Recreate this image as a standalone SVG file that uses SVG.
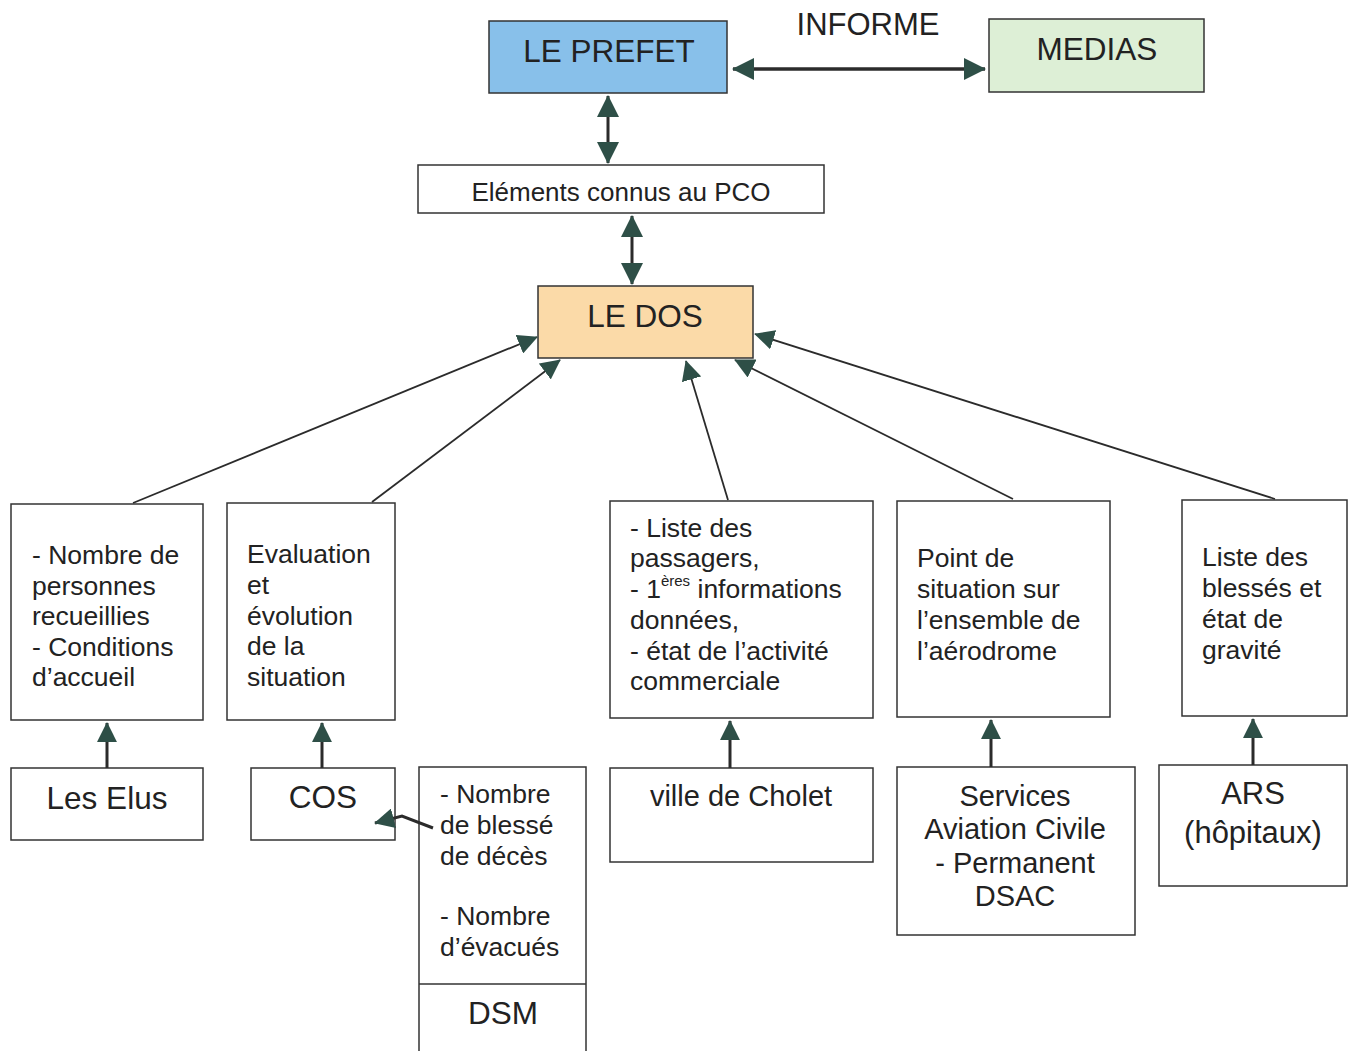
<svg xmlns="http://www.w3.org/2000/svg" width="1348" height="1051" viewBox="0 0 1348 1051">
<defs>
<marker id="ah" viewBox="0 0 22 22" refX="21" refY="11" markerWidth="22" markerHeight="22" markerUnits="userSpaceOnUse" orient="auto-start-reverse">
<path d="M0,0 L22,11 L0,22 z" fill="#2e4f47"/>
</marker>
<marker id="ahs" viewBox="0 0 22 22" refX="21" refY="11" markerWidth="20" markerHeight="20" markerUnits="userSpaceOnUse" orient="auto-start-reverse">
<path d="M0,0 L22,11 L0,22 z" fill="#2e4f47"/>
</marker>
</defs>
<style>
.box{fill:#fff;stroke:#333;stroke-width:1.5}
.t{font-family:"Liberation Sans",Arial,sans-serif;fill:#222}
.big{font-size:31.5px}
.mid{font-size:26.5px}
.c{text-anchor:middle}
.con{stroke:#2b2b2b;fill:none}
</style>
<rect width="1348" height="1051" fill="#fff"/>

<g id="prefet">
<rect x="489" y="21" width="238" height="72" fill="#88c0ea" stroke="#333" stroke-width="1.5"/>
<text class="t big c" x="609" y="62">LE PREFET</text>
</g>
<g id="informe">
<text class="t c" x="868" y="35" font-size="31">INFORME</text>
</g>
<g id="medias">
<rect x="989" y="19" width="215" height="73" fill="#ddefd6" stroke="#333" stroke-width="1.5"/>
<text class="t big c" x="1097" y="60">MEDIAS</text>
</g>
<g id="pco">
<rect class="box" x="418" y="165" width="406" height="48"/>
<text class="t c" x="621" y="201" font-size="26">Eléments connus au PCO</text>
</g>
<g id="dos">
<rect x="538" y="286" width="215" height="72" fill="#fbdaa8" stroke="#333" stroke-width="1.5"/>
<text class="t big c" x="645" y="327">LE DOS</text>
</g>

<g id="info-elus">
<rect class="box" x="11" y="504" width="192" height="216"/>
<text class="t mid" x="32" y="564">- Nombre de</text>
<text class="t mid" x="32" y="595">personnes</text>
<text class="t mid" x="32" y="625">recueillies</text>
<text class="t mid" x="32" y="656">- Conditions</text>
<text class="t mid" x="32" y="686">d’accueil</text>
</g>
<g id="info-cos">
<rect class="box" x="227" y="503" width="168" height="217"/>
<text class="t mid" x="247" y="563">Evaluation</text>
<text class="t mid" x="247" y="594">et</text>
<text class="t mid" x="247" y="625">évolution</text>
<text class="t mid" x="247" y="655">de la</text>
<text class="t mid" x="247" y="686">situation</text>
</g>
<g id="info-cholet">
<rect class="box" x="610" y="501" width="263" height="217"/>
<text class="t mid" x="630" y="537">- Liste des</text>
<text class="t mid" x="630" y="567">passagers,</text>
<text class="t mid" x="630" y="598">- 1<tspan font-size="15" dy="-12">ères</tspan><tspan dy="12"> informations</tspan></text>
<text class="t mid" x="630" y="629">données,</text>
<text class="t mid" x="630" y="660">- état de l’activité</text>
<text class="t mid" x="630" y="690">commerciale</text>
</g>
<g id="info-aviation">
<rect class="box" x="897" y="501" width="213" height="216"/>
<text class="t mid" x="917" y="567">Point de</text>
<text class="t mid" x="917" y="598">situation sur</text>
<text class="t mid" x="917" y="629">l’ensemble de</text>
<text class="t mid" x="917" y="660">l’aérodrome</text>
</g>
<g id="info-ars">
<rect class="box" x="1182" y="500" width="165" height="216"/>
<text class="t mid" x="1202" y="566">Liste des</text>
<text class="t mid" x="1202" y="597">blessés et</text>
<text class="t mid" x="1202" y="628">état de</text>
<text class="t mid" x="1202" y="659">gravité</text>
</g>

<g id="elus">
<rect class="box" x="11" y="768" width="192" height="72"/>
<text class="t big c" x="107" y="809">Les Elus</text>
</g>
<g id="cos">
<rect class="box" x="251" y="768" width="144" height="72"/>
<text class="t big c" x="323" y="808">COS</text>
</g>
<g id="dsm">
<rect class="box" x="419" y="767" width="167" height="290"/>
<line x1="419" y1="984" x2="586" y2="984" stroke="#333" stroke-width="1.5"/>
<text class="t mid" x="440" y="803">- Nombre</text>
<text class="t mid" x="440" y="834">de blessé</text>
<text class="t mid" x="440" y="865">de décès</text>
<text class="t mid" x="440" y="925">- Nombre</text>
<text class="t mid" x="440" y="956">d’évacués</text>
<text class="t big c" x="503" y="1024">DSM</text>
</g>
<g id="cholet">
<rect class="box" x="610" y="768" width="263" height="94"/>
<text class="t c" x="741" y="806" font-size="29">ville de Cholet</text>
</g>
<g id="aviation">
<rect class="box" x="897" y="767" width="238" height="168"/>
<text class="t c" x="1015" y="806" font-size="29">Services</text>
<text class="t c" x="1015" y="839" font-size="29">Aviation Civile</text>
<text class="t c" x="1015" y="873" font-size="29">- Permanent</text>
<text class="t c" x="1015" y="906" font-size="29">DSAC</text>
</g>
<g id="ars">
<rect class="box" x="1159" y="765" width="188" height="121"/>
<text class="t c" x="1253" y="804" font-size="31">ARS</text>
<text class="t c" x="1253" y="843" font-size="31">(hôpitaux)</text>
</g>

<g id="connectors">
<line class="con" x1="733" y1="69" x2="985" y2="69" stroke-width="3.5" marker-start="url(#ah)" marker-end="url(#ah)"/>
<line class="con" x1="608" y1="96" x2="608" y2="163" stroke-width="3" marker-start="url(#ah)" marker-end="url(#ah)"/>
<line class="con" x1="632" y1="216" x2="632" y2="284" stroke-width="3" marker-start="url(#ah)" marker-end="url(#ah)"/>
<line class="con" x1="133" y1="503" x2="537" y2="337" stroke-width="1.8" marker-end="url(#ahs)"/>
<line class="con" x1="372" y1="502" x2="560" y2="360" stroke-width="1.8" marker-end="url(#ahs)"/>
<line class="con" x1="728" y1="500" x2="686" y2="361" stroke-width="1.8" marker-end="url(#ahs)"/>
<line class="con" x1="1013" y1="499" x2="735" y2="360" stroke-width="1.8" marker-end="url(#ahs)"/>
<line class="con" x1="1275" y1="499" x2="755" y2="334" stroke-width="1.8" marker-end="url(#ahs)"/>
<line class="con" x1="107" y1="768" x2="107" y2="723" stroke-width="3" marker-end="url(#ahs)"/>
<line class="con" x1="322" y1="768" x2="322" y2="723" stroke-width="3" marker-end="url(#ahs)"/>
<line class="con" x1="730" y1="768" x2="730" y2="721" stroke-width="3" marker-end="url(#ahs)"/>
<line class="con" x1="991" y1="767" x2="991" y2="720" stroke-width="3" marker-end="url(#ahs)"/>
<line class="con" x1="1253" y1="765" x2="1253" y2="719" stroke-width="3" marker-end="url(#ahs)"/>
<path class="con" d="M433,828 L402,816 L375,823" stroke="#2e4f47" stroke-width="3" marker-end="url(#ahs)"/>
</g>
</svg>
